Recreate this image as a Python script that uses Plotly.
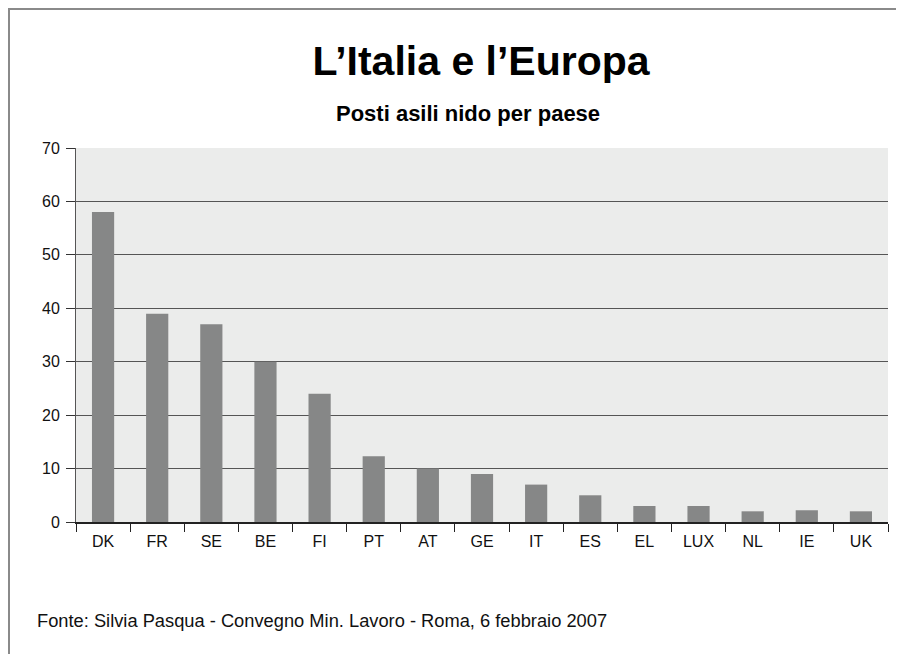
import plotly.graph_objects as go

countries = ["DK", "FR", "SE", "BE", "FI", "PT", "AT", "GE", "IT", "ES", "EL", "LUX", "NL", "IE", "UK"]
posti = [58, 39, 37, 30, 24, 12.3, 10, 9, 7, 5, 3, 3, 2, 2.2, 2]
y_ticks = [0, 10, 20, 30, 40, 50, 60, 70]

title_text = "L’Italia e l’Europa"
subtitle_text = "Posti asili nido per paese"
source_text = "Fonte: Silvia Pasqua - Convegno Min. Lavoro - Roma, 6 febbraio 2007"

FONT = "Liberation Sans, Arial, Helvetica, sans-serif"

fig = go.Figure(
    go.Bar(
        x=countries,
        y=posti,
        marker=dict(color="#868787", line=dict(width=0)),
        hoverinfo="x+y",
    )
)

# page body has an 8px margin; figure drawn at offset (8, 8)
OFF = 8
W, H = 904 - OFF, 662 - 2 * OFF
# target plot area on screen: x 76..888, y 148..522
L = 76 - OFF
T = 148 - OFF
R = W - (888 - OFF)
B = H - (522 - OFF)
pw, ph = W - L - R, H - T - B


def px(x):
    return (x - OFF - L) / pw


def py(y):
    return (H - B - (y - OFF)) / ph


fig.update_layout(
    width=W,
    height=H,
    margin=dict(l=L, r=R, t=T, b=B, pad=0),
    paper_bgcolor="white",
    plot_bgcolor="#ebeceb",
    bargap=0.59,
    showlegend=False,
    font=dict(family=FONT, color="#111111", size=16),
    title=dict(
        text="<b>" + title_text + "</b>",
        xref="container",
        x=(481 - OFF) / W,
        xanchor="center",
        yref="container",
        y=1 - (61 - OFF) / H,
        yanchor="middle",
        font=dict(family=FONT, size=41, color="#000000"),
    ),
    annotations=[
        dict(
            text="<b>" + subtitle_text + "</b>",
            x=px(468), y=py(113), xref="paper", yref="paper",
            xanchor="center", yanchor="middle", showarrow=False,
            font=dict(family=FONT, size=22, color="#000000"),
        ),
        dict(
            text=source_text,
            x=px(35), y=py(620), xref="paper", yref="paper",
            xanchor="left", yanchor="middle", showarrow=False,
            font=dict(family=FONT, size=18.3, color="#111111"),
        ),
    ],
    shapes=[
        dict(type="line", xref="paper", yref="paper",
             x0=px(OFF + 1), x1=px(OFF + 1), y0=py(OFF), y1=py(662 + 5),
             line=dict(color="#8a8a8a", width=2)),
        dict(type="line", xref="paper", yref="paper",
             x0=px(OFF), x1=px(904 + 5), y0=py(OFF + 1), y1=py(OFF + 1),
             line=dict(color="#8a8a8a", width=2)),
    ],
)

fig.update_xaxes(
    type="category",
    showgrid=False,
    showline=True,
    linecolor="#222222",
    linewidth=1.5,
    ticks="outside",
    tickson="boundaries",
    ticklen=8,
    tickcolor="#222222",
    tickwidth=1,
    ticklabelstandoff=4,
    tickfont=dict(family=FONT, size=16, color="#111111"),
    fixedrange=True,
)

fig.update_yaxes(
    range=[0, 70],
    tickvals=y_ticks,
    showgrid=True,
    gridcolor="#555555",
    gridwidth=1,
    zeroline=False,
    showline=True,
    linecolor="#555555",
    linewidth=1,
    ticks="outside",
    ticklen=9,
    tickcolor="#333333",
    tickwidth=1,
    ticklabelstandoff=3,
    tickfont=dict(family=FONT, size=16, color="#111111"),
    fixedrange=True,
)

fig.write_html("out.html", config={"displayModeBar": False})
